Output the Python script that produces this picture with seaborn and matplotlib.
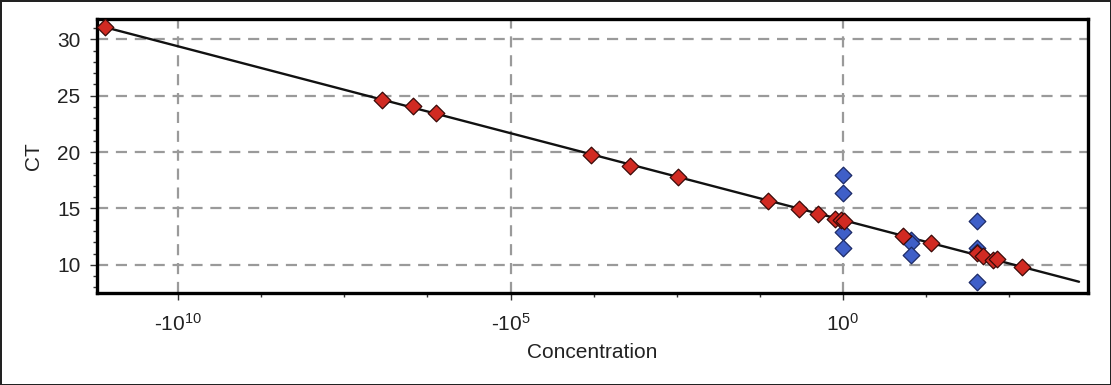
import numpy as np
import pandas as pd
import matplotlib
matplotlib.use("Agg")
import matplotlib.pyplot as plt
from matplotlib.ticker import MultipleLocator, FixedLocator
import seaborn as sns

# ---- data (log10 concentration vs CT) ----
std_logconc = [-11.10, -6.93, -6.47, -6.12, -3.79, -3.20, -2.48, -1.13, -0.66, -0.38,
               -0.12, -0.03, 0.02, 0.90, 1.32, 2.02, 2.10, 2.26, 2.32, 2.69]
std_ct = [31.05, 24.65, 24.10, 23.50, 19.75, 18.80, 17.75, 15.65, 14.95, 14.50,
          14.10, 13.95, 13.85, 12.55, 11.95, 11.05, 10.75, 10.45, 10.55, 9.80]
unk_logconc = [0.0, 0.0, 0.0, 0.0, 1.03, 1.03, 1.03, 2.02, 2.02, 2.02, 2.02]
unk_ct = [18.0, 16.4, 12.9, 11.5, 12.2, 11.95, 10.9, 13.9, 11.5, 11.1, 8.45]
xtick_vals = [-10, -5, 0]
xtick_labels = ["-10$^{10}$", "-10$^{5}$", "10$^{0}$"]
ytick_vals = [10, 15, 20, 25, 30]
FIT_XMAX = 3.55

std = pd.DataFrame({"x": std_logconc, "y": std_ct})
unk = pd.DataFrame({"x": unk_logconc, "y": unk_ct})
slope, intercept = np.polyfit(std["x"], std["y"], 1)
fx = np.linspace(std["x"].min(), FIT_XMAX, 50)
fit = pd.DataFrame({"x": fx, "y": intercept + slope * fx})

sns.set_theme(style="white")
plt.rcParams["font.family"] = ["Liberation Sans", "DejaVu Sans"]
plt.rcParams["mathtext.fontset"] = "custom"
plt.rcParams["mathtext.rm"] = "Liberation Sans"
plt.rcParams["mathtext.it"] = "Liberation Sans"
plt.rcParams["mathtext.default"] = "regular"

fig = plt.figure(figsize=(11.11, 3.85), dpi=100)
fig.patch.set_edgecolor("#222222")
fig.patch.set_linewidth(2)
ax = fig.add_axes([0.0873, 0.239, 0.979 - 0.0873, 0.9506 - 0.239])

sns.lineplot(data=fit, x="x", y="y", ax=ax, color="#111111", lw=1.7, zorder=2)
sns.scatterplot(data=unk, x="x", y="y", ax=ax, marker="D", s=72,
                color="#3f5fc8", edgecolor="#1c2a66", linewidth=0.9, zorder=3)
sns.scatterplot(data=std, x="x", y="y", ax=ax, marker="D", s=72,
                color="#d12a22", edgecolor="#3a0a08", linewidth=0.9, zorder=4)

ax.set_xlim(-11.22, 3.68)
ax.set_ylim(7.5, 31.8)
ax.xaxis.set_major_locator(FixedLocator(xtick_vals))
ax.set_xticks(xtick_vals)
ax.set_xticklabels(xtick_labels)
ax.xaxis.set_minor_locator(MultipleLocator(1.25))
ax.set_yticks(ytick_vals)
ax.yaxis.set_minor_locator(MultipleLocator(1))

ax.grid(True, which="major", color="#9a9a9a", linestyle=(0, (5, 3.5)), linewidth=1.6)
for s in ax.spines.values():
    s.set_color("black")
    s.set_linewidth(2.4)
ax.tick_params(axis="both", which="major", direction="out", length=5, width=1,
               color="#333333", labelsize=15, labelcolor="#222222", bottom=True, left=True)
ax.tick_params(axis="x", which="major", pad=9)
ax.tick_params(axis="y", which="major", pad=7)
ax.tick_params(axis="both", which="minor", direction="out", length=3, width=1,
               color="#333333", bottom=True, left=True)

ax.set_xlabel("Concentration", fontsize=15, color="#222222", labelpad=6)
ax.set_ylabel("CT", fontsize=15, color="#222222", labelpad=10)

fig.savefig("out.png", dpi=100, facecolor="white", edgecolor=fig.get_edgecolor())
